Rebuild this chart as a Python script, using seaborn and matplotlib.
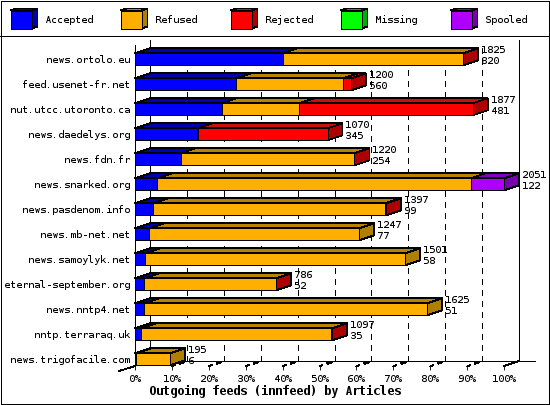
import numpy as np
import pandas as pd
import matplotlib
matplotlib.use("Agg")
import matplotlib.pyplot as plt
from matplotlib.patches import Polygon, Rectangle
import seaborn as sns

hosts = ["news.ortolo.eu", "feed.usenet-fr.net", "nut.utcc.utoronto.ca", "news.daedelys.org",
         "news.fdn.fr", "news.snarked.org", "news.pasdenom.info", "news.mb-net.net",
         "news.samoylyk.net", "eternal-september.org", "news.nntp4.net", "nntp.terraraq.uk",
         "news.trigofacile.com"]
offered = [1825, 1200, 1877, 1070, 1220, 2051, 1397, 1247, 1501, 786, 1625, 1097, 195]
accepted = [820, 560, 481, 345, 254, 122, 99, 77, 58, 52, 51, 35, 6]
refused = [1002, 598, 432, 3, 961, 1744, 1290, 1170, 1443, 731, 1574, 1057, 189]
rejected = [3, 42, 964, 722, 5, 0, 8, 0, 0, 3, 0, 5, 0]
missing = [0] * 13
spooled = [0, 0, 0, 0, 0, 185, 0, 0, 0, 0, 0, 0, 0]

series_names = ["Accepted", "Refused", "Rejected", "Missing", "Spooled"]
front_colors = ["#0000FF", "#FFAF00", "#FF0000", "#00FF00", "#AF00FF"]
top_colors = ["#0000B0", "#B88400", "#C81010", "#00B000", "#8000C0"]
side_colors = ["#0000AF", "#AF7F00", "#AF0000", "#00AF00", "#7700AF"]
xtick_values = list(range(0, 101, 10))
xlabel_text = "Outgoing feeds (innfeed) by Articles"

sns.set_theme(style="white")
plt.rcParams["font.family"] = ["DejaVu Sans Mono"]
plt.rcParams["text.antialiased"] = True
plt.rcParams["text.hinting"] = "native"
plt.rcParams["text.hinting_factor"] = 1
FS = 7.2
LW = 0.62

W, H = 550, 405
fig = plt.figure(figsize=(5.5, 4.05), dpi=100, facecolor="white")

# pixel-space overlay for frame and legend
ov = fig.add_axes([0, 0, 1, 1], zorder=0)
ov.set_xlim(0, W); ov.set_ylim(H, 0); ov.axis("off")
ov.add_patch(Rectangle((0.5, 0.5), W - 1.5, H - 1.5, fc="white", ec="black", lw=LW, antialiased=False))
ov.plot([0, W], [35.5, 35.5], color="black", lw=LW, antialiased=False)
for i, name in enumerate(series_names):
    x0 = 10.5 + 110 * i
    y0, y1, w, dx_, dy_ = 10.5, 28.5, 21, 6, 2
    ov.add_patch(Polygon([(x0, y0), (x0 + w, y0), (x0 + w + dx_, y0 - dy_), (x0 + dx_, y0 - dy_)],
                         fc=top_colors[i], ec="black", lw=LW, antialiased=False))
    ov.add_patch(Polygon([(x0 + w, y0), (x0 + w + dx_, y0 - dy_), (x0 + w + dx_, y1 - dy_), (x0 + w, y1)],
                         fc=side_colors[i], ec="black", lw=LW, antialiased=False))
    ov.add_patch(Rectangle((x0, y0), w, y1 - y0, fc=front_colors[i], ec="black", lw=LW, antialiased=False))
    ov.text(x0 + 34, 20, name, fontsize=FS, va="center", ha="left", color="black")

# main axes: 0..100 % spans 369 px; rows are 25 px apart
L, R, T, B = 135.0, 504.0, 45.0, 366.0
ax = fig.add_axes([L / W, (H - B) / H, (R - L) / W, (B - T) / H], zorder=1)
ax.patch.set_alpha(0)

scale = 100.0 / max(offered)
df = pd.DataFrame({"host": hosts, "Accepted": accepted, "Refused": refused, "Rejected": rejected,
                   "Missing": missing, "Spooled": spooled})
long = df.melt(id_vars="host", var_name="kind", value_name="n")
cum = df[series_names].cumsum(axis=1).shift(1, axis=1).fillna(0)
long["start"] = cum.melt(var_name="kind", value_name="s")["s"].values * scale
long["pct"] = long["n"] * scale

BAR_H = 12 / 25
for i, name in enumerate(series_names):
    sub = long[(long["kind"] == name) & (long["n"] > 0)]
    if len(sub) == 0:
        continue
    sns.barplot(data=sub, y="host", x="pct", order=hosts, orient="y", left=sub["start"].values,
                color=front_colors[i], saturation=1, width=BAR_H, errorbar=None, ax=ax,
                edgecolor="black", linewidth=LW, antialiased=False, zorder=5)

y_top = (T - 59.3) / 25
y_bot = (B - 59.3) / 25
ax.set_xlim(0, 100)
ax.set_ylim(y_bot, y_top)
DX = 15 / 3.69
DY = 5 / 25

# back wall and floor
back = y_bot - DY
wall_top = (40 - 59.3) / 25
dash_top = (47 - 59.3) / 25
for v in xtick_values:
    if v in (0, 100):
        ax.plot([v + DX, v + DX], [back, wall_top], color="black", lw=LW, clip_on=False, antialiased=False, zorder=1)
    else:
        ax.plot([v + DX, v + DX], [back, dash_top], color="black", lw=LW, ls=(0, (6.5, 6.5)), clip_on=False,
                antialiased=False, zorder=1)
        ax.plot([v, v + 0.2 * DX], [y_bot + 0.02, y_bot - 0.2 * DY], color="black", lw=LW, clip_on=False,
                antialiased=False, zorder=2)
        ax.plot([v + 0.55 * DX, v + 0.8 * DX], [y_bot - 0.55 * DY, y_bot - 0.8 * DY], color="black", lw=2 * LW,
                clip_on=False, antialiased=False, zorder=2)
ax.plot([0, 108.4], [back, back], color="black", lw=LW, clip_on=False, antialiased=False, zorder=1)
ax.plot([100, 100 + DX], [y_bot, back], color="black", lw=LW, clip_on=False, antialiased=False, zorder=1)
ax.plot([-DX * 1.05, 0], [y_bot + 0.2, y_bot], color="black", lw=LW, clip_on=False, antialiased=False, zorder=1)

# 3-D faces of the bars
for row, host in enumerate(hosts):
    yt, yb = row - BAR_H / 2, row + BAR_H / 2
    last = None
    for i, name in enumerate(series_names):
        n = df.loc[row, name]
        if n <= 0:
            continue
        l = cum.loc[row, name] * scale
        r = l + n * scale
        ax.add_patch(Polygon([(l, yt), (r, yt), (r + DX, yt - DY), (l + DX, yt - DY)], closed=True,
                             fc=top_colors[i], ec="black", lw=LW, clip_on=False, antialiased=False, zorder=4))
        last = (r, i)
    r, i = last
    ax.add_patch(Polygon([(r, yt), (r + DX, yt - DY), (r + DX, yb - DY), (r, yb)], closed=True,
                         fc=side_colors[i], ec="black", lw=LW, clip_on=False, antialiased=False, zorder=4))
    end = offered[row] * scale + DX + 0.8
    ax.text(end, row - 0.36, str(offered[row]), fontsize=FS, va="center", ha="left", color="black", zorder=6, clip_on=False)
    ax.text(end, row + 0.08, str(accepted[row]), fontsize=FS, va="center", ha="left", color="black", zorder=6, clip_on=False)

for s in ("top", "right", "bottom"):
    ax.spines[s].set_visible(False)
ax.spines["left"].set_color("black")
ax.spines["left"].set_linewidth(LW)
ax.spines["left"].set_antialiased(False)
ax.set_ylabel("")
ax.set_yticks(range(len(hosts)), hosts)
ax.tick_params(axis="y", length=0, pad=3.5, labelsize=FS, labelcolor="black")
ax.set_xticks(xtick_values, [f"{v}%" for v in xtick_values])
ax.tick_params(axis="x", bottom=True, length=3.2, width=LW, color="black", pad=2.3, labelsize=FS, labelcolor="black")
ax.set_xlabel(xlabel_text, fontsize=8.4, fontweight="bold", color="black", va="center")
ax.xaxis.set_label_coords((275 - L) / (R - L), (B - 392) / (B - T))

fig.savefig("out.png", dpi=100, facecolor="white")
